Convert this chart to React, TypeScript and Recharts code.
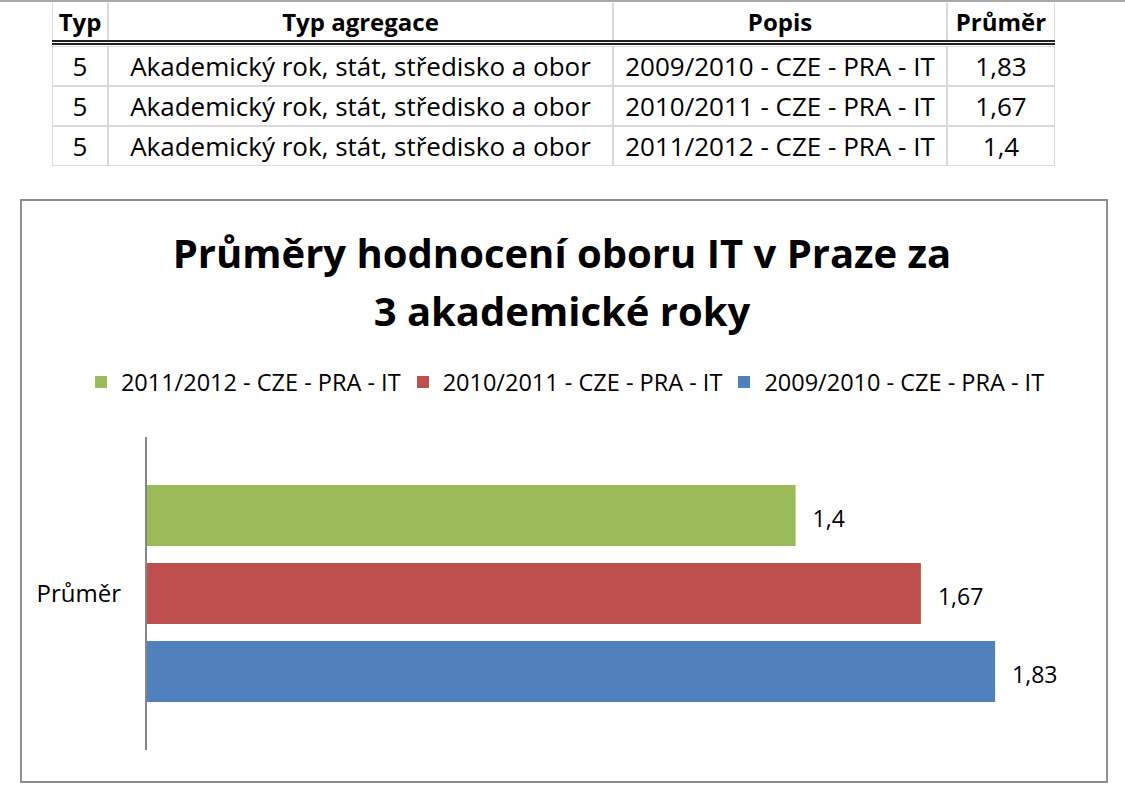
import React from 'react';
import { BarChart, Bar, XAxis, YAxis, Legend, LabelList } from 'recharts';

const categories = ['Průměr'];
const seriesNames = ['2011/2012 - CZE - PRA - IT', '2010/2011 - CZE - PRA - IT', '2009/2010 - CZE - PRA - IT'];
const seriesValues = [1.4, 1.67, 1.83];
const seriesColors = ['#9BBB59', '#C0504D', '#4F81BD'];
const xDomain = [0, 2];

const titleLines = ['Průměry hodnocení oboru IT v Praze za', '3 akademické roky'];

const tableHeaders = ['Typ', 'Typ agregace', 'Popis', 'Průměr'];
const tableTyp = ['5', '5', '5'];
const tableAgregace = [
  'Akademický rok, stát, středisko a obor',
  'Akademický rok, stát, středisko a obor',
  'Akademický rok, stát, středisko a obor',
];
const tablePopis = ['2009/2010 - CZE - PRA - IT', '2010/2011 - CZE - PRA - IT', '2011/2012 - CZE - PRA - IT'];
const tablePrumer = ['1,83', '1,67', '1,4'];

const FONT = '"Open Sans", "Noto Sans", sans-serif';

const colLefts = [52, 108, 613, 947];
const colWidths = [56, 505, 334, 108];

const fmt = (v: any) => String(v).replace('.', ',');

const chartData = categories.map((c) => {
  const row: any = { name: c };
  seriesValues.forEach((v, i) => {
    row['s' + i] = v;
  });
  return row;
});

function LegendContent(props: any) {
  const payload = [...(props.payload || [])].sort(
    (a: any, b: any) => seriesNames.indexOf(a.value) - seriesNames.indexOf(b.value)
  );
  return (
    <div style={{ display: 'flex', justifyContent: 'center', alignItems: 'center', fontFamily: FONT, fontSize: 23.5, color: '#000', whiteSpace: 'nowrap' }}>
      {payload.map((p: any, i: number) => (
        <div key={i} style={{ display: 'flex', alignItems: 'center', marginRight: i < payload.length - 1 ? 16 : 0 }}>
          <span style={{ display: 'inline-block', width: 12, height: 12, background: p.color, marginRight: 14 }} />
          <span>{p.value}</span>
        </div>
      ))}
    </div>
  );
}

function Table() {
  const cells: any[] = [];
  tableHeaders.forEach((h, c) => {
    cells.push(
      <div
        key={'h' + c}
        style={{
          position: 'absolute', left: colLefts[c], top: 3, width: colWidths[c], height: 37,
          borderLeft: '1px solid #d9d9d9', borderRight: '1px solid #d9d9d9', boxSizing: 'border-box',
          display: 'flex', alignItems: 'center', justifyContent: 'center',
          fontWeight: 700, fontSize: 24, fontFamily: FONT, color: '#000', whiteSpace: 'nowrap',
        }}
      >
        {h}
      </div>
    );
  });
  const cols = [tableTyp, tableAgregace, tablePopis, tablePrumer];
  for (let r = 0; r < 3; r++) {
    cols.forEach((col, c) => {
      cells.push(
        <div
          key={'c' + r + '_' + c}
          style={{
            position: 'absolute', left: colLefts[c], top: 46 + r * 40, width: colWidths[c], height: 40,
            border: '1px solid #d9d9d9', boxSizing: 'border-box',
            display: 'flex', alignItems: 'center', justifyContent: 'center',
            fontSize: 26, fontFamily: FONT, color: '#000', whiteSpace: 'nowrap',
          }}
        >
          {col[r]}
        </div>
      );
    });
  }
  return (
    <>
      {cells}
      <div style={{ position: 'absolute', left: 52, top: 40, width: 1003, height: 0, borderTop: '5px double #222' }} />
    </>
  );
}

export default function App() {
  return (
    <div style={{ position: 'absolute', left: 0, top: 0, width: 1125, height: 801, background: '#fff', overflow: 'hidden' }}>
      <div style={{ position: 'absolute', left: 0, top: 0, width: 1125, height: 2, background: '#a9a9a9' }} />
      <Table />
      <div style={{ position: 'absolute', left: 20, top: 199, width: 1088, height: 584, border: '2px solid #8e8e8e', boxSizing: 'border-box' }} />
      <div style={{ position: 'absolute', left: 20, top: 224, width: 1084, textAlign: 'center', fontFamily: FONT, fontWeight: 700, fontSize: 40, lineHeight: '58px', color: '#000', whiteSpace: 'nowrap' }}>
        {titleLines.map((t, i) => (
          <div key={i}>{t}</div>
        ))}
      </div>
      <div style={{ position: 'absolute', left: 0, top: 0 }}>
        <BarChart
          width={1125}
          height={801}
          data={chartData}
          layout="vertical"
          margin={{ top: 437, right: 51, bottom: 51, left: 0 }}
          barCategoryGap={48}
          barGap={17}
        >
          <XAxis type="number" domain={xDomain} hide />
          <YAxis
            type="category"
            dataKey="name"
            width={146}
            axisLine={{ stroke: '#868686', strokeWidth: 2 }}
            tickLine={false}
            tickSize={0}
            tickMargin={25}
            tick={{ fontSize: 24, fill: '#000', fontFamily: FONT }}
          />
          <Legend
            layout="horizontal"
            verticalAlign="middle"
            align="center"
            content={<LegendContent />}
            wrapperStyle={{ top: 366, left: 42, width: 1055 }}
          />
          {seriesNames.map((n, i) => (
            <Bar key={n} dataKey={'s' + i} name={n} fill={seriesColors[i]} isAnimationActive={false}>
              <LabelList dataKey={'s' + i} position="right" offset={17} dy={3} formatter={fmt} style={{ fontSize: 23, fill: '#000', fontFamily: FONT }} />
            </Bar>
          ))}
        </BarChart>
      </div>
    </div>
  );
}
